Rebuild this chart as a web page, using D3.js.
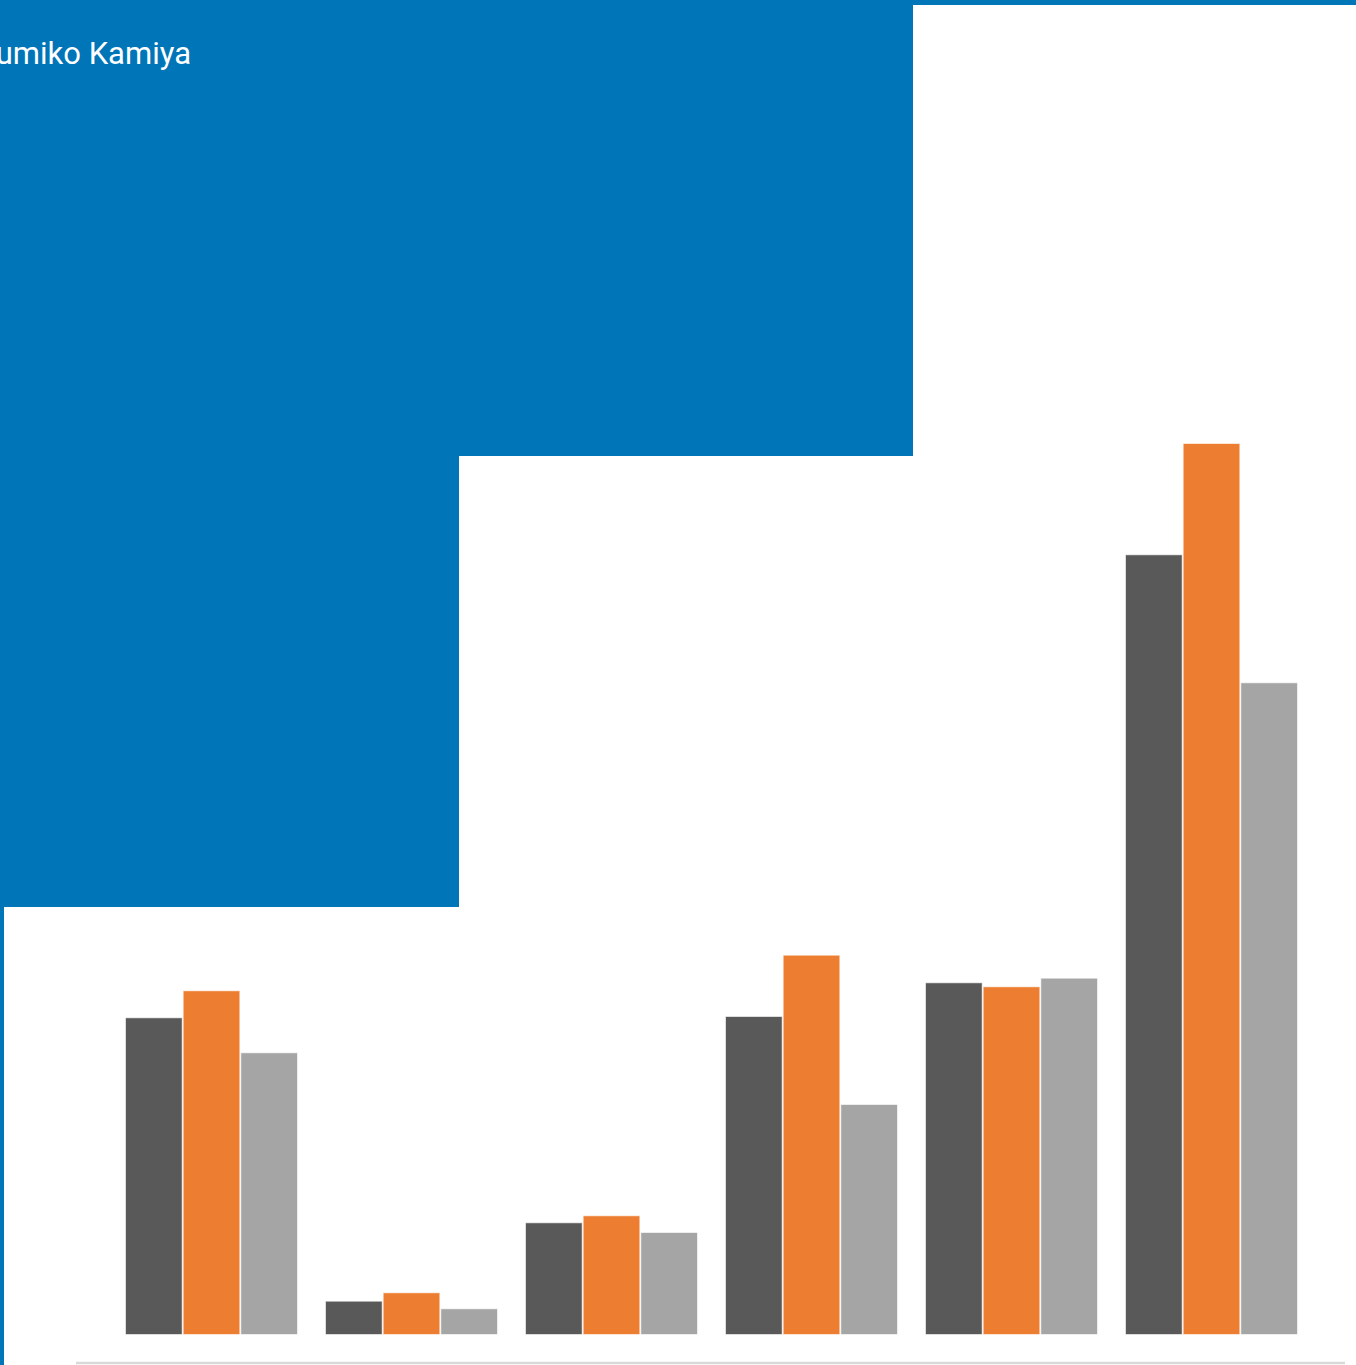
<!DOCTYPE html>
<html>
<head>
<meta charset="utf-8">
<script src="https://cdn.jsdelivr.net/npm/d3@7"></script>
<style>
html,body{margin:0;padding:0;background:#fff;overflow:hidden;}
svg{display:block;}
</style>
</head>
<body>
<script>
// ---- data ----
const categories = ["A", "B", "C", "D", "E", "F"];
const seriesNames = ["Series 1", "Series 2", "Series 3"];
const series1 = [316.7, 33.3, 111.7, 318.0, 351.7, 779.7];
const series2 = [343.7, 41.7, 118.7, 379.3, 347.7, 891.0];
const series3 = [281.7, 25.7, 102.0, 230.0, 356.3, 651.7];
const seriesColors = ["#595959", "#ED7D31", "#A5A5A5"];
const titleText = "umiko Kamiya";

const W = 1356, H = 1365;
const svg = d3.select("body").append("svg").attr("width", W).attr("height", H);

// blue stepped banner
const blue = "#0075B8";
const band = d3.path();
band.moveTo(0, 0);
band.lineTo(W, 0);
band.lineTo(W, 5);
band.lineTo(913, 5);
band.lineTo(913, 456);
band.lineTo(459, 456);
band.lineTo(459, 907);
band.lineTo(4, 907);
band.lineTo(4, H);
band.lineTo(0, H);
band.closePath();
svg.append("path").attr("d", band.toString()).attr("fill", blue);

svg.append("text")
  .attr("x", 191).attr("y", 64)
  .attr("text-anchor", "end")
  .attr("fill", "#fff")
  .attr("font-family", "Roboto, 'Open Sans', sans-serif")
  .attr("font-size", 31)
  .text(titleText);

// scales
const baseline = 1334.5;
const y = d3.scaleLinear().domain([0, 1000]).range([baseline, baseline - 1000]);
const x0 = d3.scaleBand().domain(categories).range([111.5, 1311.5])
  .paddingInner(0.135).paddingOuter(0.0675);
const x1 = d3.scaleBand().domain(seriesNames).range([0, x0.bandwidth()]).padding(0);

const allSeries = [series1, series2, series3];
const rows = categories.map((c, i) => ({
  cat: c,
  vals: seriesNames.map((s, j) => ({ s, v: allSeries[j][i], color: seriesColors[j] }))
}));

// axis line
const xAxis = d3.axisBottom(x0).tickSize(0).tickFormat("");
const ax = svg.append("g").attr("transform", `translate(0,1363)`).call(xAxis);
ax.select(".domain").attr("d", `M76,0H1345`).attr("stroke", "#D9D9D9").attr("stroke-width", 2.5);

const g = svg.append("g");
g.selectAll("g.grp").data(rows).join("g")
  .attr("class", "grp")
  .attr("transform", d => `translate(${x0(d.cat)},0)`)
  .selectAll("rect").data(d => d.vals).join("rect")
  .attr("x", d => x1(d.s) + 0.5)
  .attr("y", d => y(d.v))
  .attr("width", x1.bandwidth() - 1)
  .attr("height", d => y(0) - y(d.v))
  .attr("fill", d => d.color)
  .attr("stroke", "#fff")
  .attr("stroke-opacity", 0.6)
  .attr("stroke-width", 1);
</script>
</body>
</html>
